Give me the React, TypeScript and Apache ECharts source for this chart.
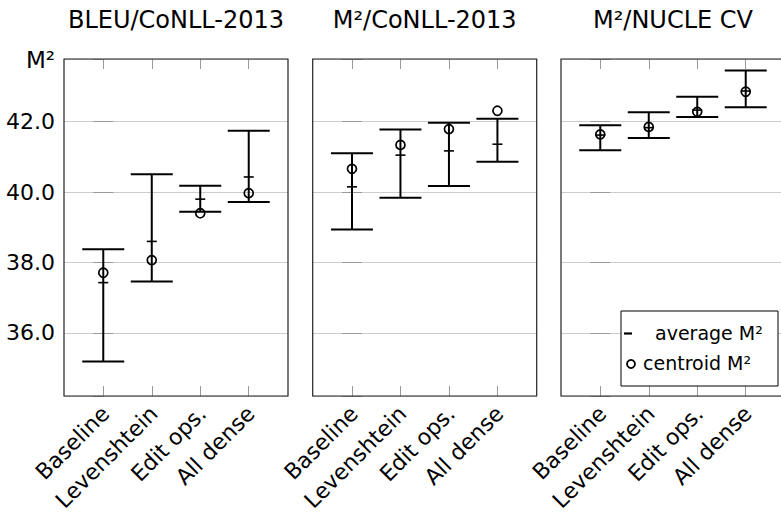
import React, { useEffect, useRef } from 'react';
import * as echarts from 'echarts';

const categories = ['Baseline', 'Levenshtein', 'Edit ops.', 'All dense'];
const panelTitles = ['BLEU/CoNLL-2013', 'M²/CoNLL-2013', 'M²/NUCLE CV'];
const yAxisTitle = 'M²';
const legendLabels = ['average M²', 'centroid M²'];

// BLEU/CoNLL-2013
const bleuLow = [35.19, 37.46, 39.44, 39.72];
const bleuHigh = [38.38, 40.51, 40.18, 41.74];
const bleuAvg = [37.43, 38.6, 39.8, 40.43];
const bleuCentroid = [37.71, 38.07, 39.4, 39.97];

// M2/CoNLL-2013
const m2Low = [38.94, 39.84, 40.17, 40.86];
const m2High = [41.1, 41.78, 41.97, 42.08];
const m2Avg = [40.15, 41.05, 41.17, 41.36];
const m2Centroid = [40.66, 41.34, 41.79, 42.31];

// M2/NUCLE CV
const nucleLow = [41.19, 41.54, 42.13, 42.41];
const nucleHigh = [41.9, 42.27, 42.71, 43.45];
const nucleAvg = [41.62, 41.83, 42.33, 42.87];
const nucleCentroid = [41.64, 41.85, 42.28, 42.85];

const yMin = 34.21;
const yMax = 43.78;
const xMin = -0.81;
const xMax = 3.81;

const panels = [
  { low: bleuLow, high: bleuHigh, avg: bleuAvg, centroid: bleuCentroid },
  { low: m2Low, high: m2High, avg: m2Avg, centroid: m2Centroid },
  { low: nucleLow, high: nucleHigh, avg: nucleAvg, centroid: nucleCentroid },
];

const FONT = 'DejaVu Sans';
const gridLefts = [64, 312.7, 561];
const gridWidth = 224;
const gridTop = 59;
const gridHeight = 337;

export default function App() {
  const ref = useRef<HTMLDivElement>(null);

  useEffect(() => {
    if (!ref.current) return;
    const chart = echarts.init(ref.current, undefined, { renderer: 'svg' });
    const catIdx = categories.map((_, i) => i);

    const grids: any[] = [];
    const xAxes: any[] = [];
    const yAxes: any[] = [];
    const series: any[] = [];
    const graphics: any[] = [];

    panels.forEach((p, k) => {
      grids.push({
        left: gridLefts[k],
        top: gridTop,
        width: gridWidth,
        height: gridHeight,
        containLabel: false,
        outerBoundsMode: 'none',
        show: true,
        borderColor: '#222',
        borderWidth: 1.2,
        backgroundColor: 'transparent',
        z: 5,
      });
      const tick = {
        show: true,
        inside: true,
        length: 10,
        customValues: catIdx,
        lineStyle: { color: '#999', width: 1 },
      };
      xAxes.push({
        gridIndex: k,
        type: 'value',
        min: xMin,
        max: xMax,
        position: 'bottom',
        axisLine: { show: false },
        splitLine: { show: false },
        axisTick: tick,
        axisLabel: {
          customValues: catIdx,
          formatter: (v: number) => categories[Math.round(v)] ?? '',
          rotate: 45,
          fontFamily: FONT,
          fontSize: 22,
          color: '#000',
          margin: 16,
          padding: [0, -3, 0, 0],
        },
      });
      xAxes.push({
        gridIndex: k,
        type: 'value',
        min: xMin,
        max: xMax,
        position: 'top',
        axisLine: { show: false },
        splitLine: { show: false },
        axisTick: tick,
        axisLabel: { show: false },
      });
      const yTick = { show: true, inside: true, length: 10, lineStyle: { color: '#999', width: 1 } };
      yAxes.push({
        gridIndex: k,
        type: 'value',
        min: yMin,
        max: yMax,
        splitNumber: 5,
        position: 'left',
        axisLine: { show: false },
        axisTick: yTick,
        splitLine: { show: true, lineStyle: { color: '#cccccc', width: 1 } },
        axisLabel: {
          show: k === 0,
          showMinLabel: false,
          showMaxLabel: false,
          formatter: (v: number) => v.toFixed(1),
          fontFamily: FONT,
          fontSize: 22,
          color: '#000',
          margin: 9,
        },
      });
      yAxes.push({
        gridIndex: k,
        type: 'value',
        min: yMin,
        max: yMax,
        splitNumber: 5,
        position: 'right',
        axisLine: { show: false },
        axisTick: yTick,
        splitLine: { show: false },
        axisLabel: { show: false },
      });

      series.push({
        type: 'custom',
        xAxisIndex: 2 * k,
        yAxisIndex: 2 * k,
        clip: false,
        z: 10,
        encode: { x: 0, y: [1, 2] },
        data: categories.map((_, i) => [i, p.low[i], p.high[i], p.avg[i], p.centroid[i]]),
        renderItem: (params: any, api: any) => {
          const x = api.value(0);
          const lo = api.coord([x, api.value(1)]);
          const hi = api.coord([x, api.value(2)]);
          const av = api.coord([x, api.value(3)]);
          const ce = api.coord([x, api.value(4)]);
          const cap = 21;
          const st = { stroke: '#000', lineWidth: 2 };
          return {
            type: 'group',
            children: [
              { type: 'line', shape: { x1: lo[0], y1: lo[1], x2: hi[0], y2: hi[1] }, style: st },
              { type: 'line', shape: { x1: lo[0] - cap, y1: lo[1], x2: lo[0] + cap, y2: lo[1] }, style: st },
              { type: 'line', shape: { x1: hi[0] - cap, y1: hi[1], x2: hi[0] + cap, y2: hi[1] }, style: st },
              { type: 'line', shape: { x1: av[0] - 5, y1: av[1], x2: av[0] + 5, y2: av[1] }, style: { stroke: '#000', lineWidth: 1.6 } },
              { type: 'circle', shape: { cx: ce[0], cy: ce[1], r: 4.5 }, style: { fill: 'none', stroke: '#000', lineWidth: 1.7 } },
            ],
          };
        },
      });

      graphics.push({
        type: 'text',
        x: gridLefts[k] + gridWidth / 2,
        y: 20,
        z: 100,
        style: {
          text: panelTitles[k],
          fontFamily: FONT,
          fontSize: 24,
          fill: '#000',
          align: 'center',
          verticalAlign: 'middle',
        },
      });
    });

    graphics.push({
      type: 'text',
      x: 26,
      y: 60,
      z: 100,
      style: { text: yAxisTitle, fontFamily: FONT, fontSize: 23, fill: '#000', align: 'left', verticalAlign: 'middle' },
    });

    // legend box
    graphics.push({
      type: 'group',
      z: 100,
      children: [
        { type: 'rect', shape: { x: 621, y: 311, width: 157, height: 75 }, style: { fill: '#fff', stroke: '#000', lineWidth: 1 }, z: 100 },
        { type: 'line', shape: { x1: 624, y1: 333.5, x2: 632, y2: 333.5 }, style: { stroke: '#000', lineWidth: 2.2 }, z: 101 },
        {
          type: 'text', x: 655, y: 333, z: 101,
          style: { text: legendLabels[0], fontFamily: FONT, fontSize: 19, fill: '#000', align: 'left', verticalAlign: 'middle' },
        },
        { type: 'circle', shape: { cx: 631, cy: 364, r: 4 }, style: { fill: 'none', stroke: '#000', lineWidth: 1.8 }, z: 101 },
        {
          type: 'text', x: 643, y: 363, z: 101,
          style: { text: legendLabels[1], fontFamily: FONT, fontSize: 19, fill: '#000', align: 'left', verticalAlign: 'middle' },
        },
      ],
    });

    chart.setOption({
      animation: false,
      backgroundColor: '#fff',
      grid: grids,
      xAxis: xAxes,
      yAxis: yAxes,
      series,
      graphic: graphics,
    });

    return () => chart.dispose();
  }, []);

  return (
    <div
      ref={ref}
      style={{ position: 'fixed', left: 0, top: 0, width: 781, height: 512 }}
    />
  );
}
